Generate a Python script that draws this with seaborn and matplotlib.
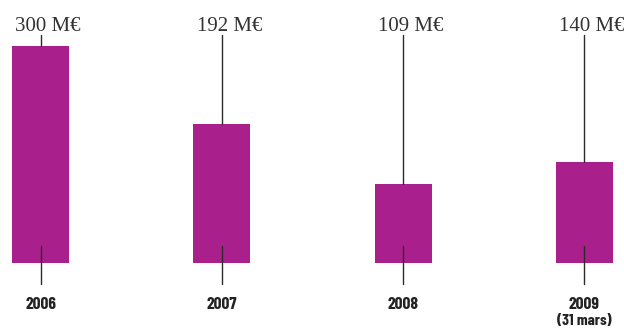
import matplotlib
matplotlib.use("Agg")
import matplotlib.pyplot as plt
import matplotlib.transforms as mtransforms
import seaborn as sns
import pandas as pd

years = ["2006", "2007", "2008", "2009"]
year_notes = ["", "", "", "(31 mars)"]
amounts = [300, 192, 109, 140]
value_labels = ["300 M€", "192 M€", "109 M€", "140 M€"]

bar_color = "#A91F8C"
line_color = "#2b2b2b"

sns.set_theme(style="white")
plt.rcParams["font.family"] = ["Liberation Serif", "DejaVu Serif"]

df = pd.DataFrame({"year": years, "amount": amounts})

fig = plt.figure(figsize=(6.24, 3.29), dpi=100)
ax = fig.add_axes([0, 0, 1, 1])
sns.barplot(data=df, x="year", y="amount", color=bar_color, saturation=1,
            width=0.314, linewidth=0, ax=ax, zorder=1)

px_per_x = 181.3
px_per_y = 0.7233
ax.set_xlim(-40.5 / px_per_x, (624 - 40.5) / px_per_x)
ax.set_ylim(-66 / px_per_y, (329 - 66) / px_per_y)
ax.axis("off")

label_base = 321
connector_top = 315
tick_top, tick_bottom = 23.5, -28.6
year_base = -63.5
note_base = -86

label_tr = mtransforms.offset_copy(ax.transData, fig=fig, x=7.5, y=0, units="dots")
cond = ["Barlow Condensed", "DejaVu Sans"]

for i, (val, lab, yr, note) in enumerate(zip(amounts, value_labels, years, year_notes)):
    ax.text(i, label_base, lab, ha="center", va="baseline", fontsize=15,
            color="#333333", transform=label_tr,
            family=["Liberation Serif", "DejaVu Serif"])
    ax.plot([i, i], [val, connector_top], color=line_color, lw=1, zorder=3)
    ax.plot([i, i], [tick_top, tick_bottom], color=line_color, lw=1, zorder=3)
    ax.text(i, year_base, yr, ha="center", va="baseline", fontsize=12.5,
            fontweight="bold", color="#222222", family=cond)
    if note:
        ax.text(i, note_base, note, ha="center", va="baseline", fontsize=11.5,
                fontweight="bold", color="#222222", family=cond)

fig.savefig("out.png", dpi=100)
